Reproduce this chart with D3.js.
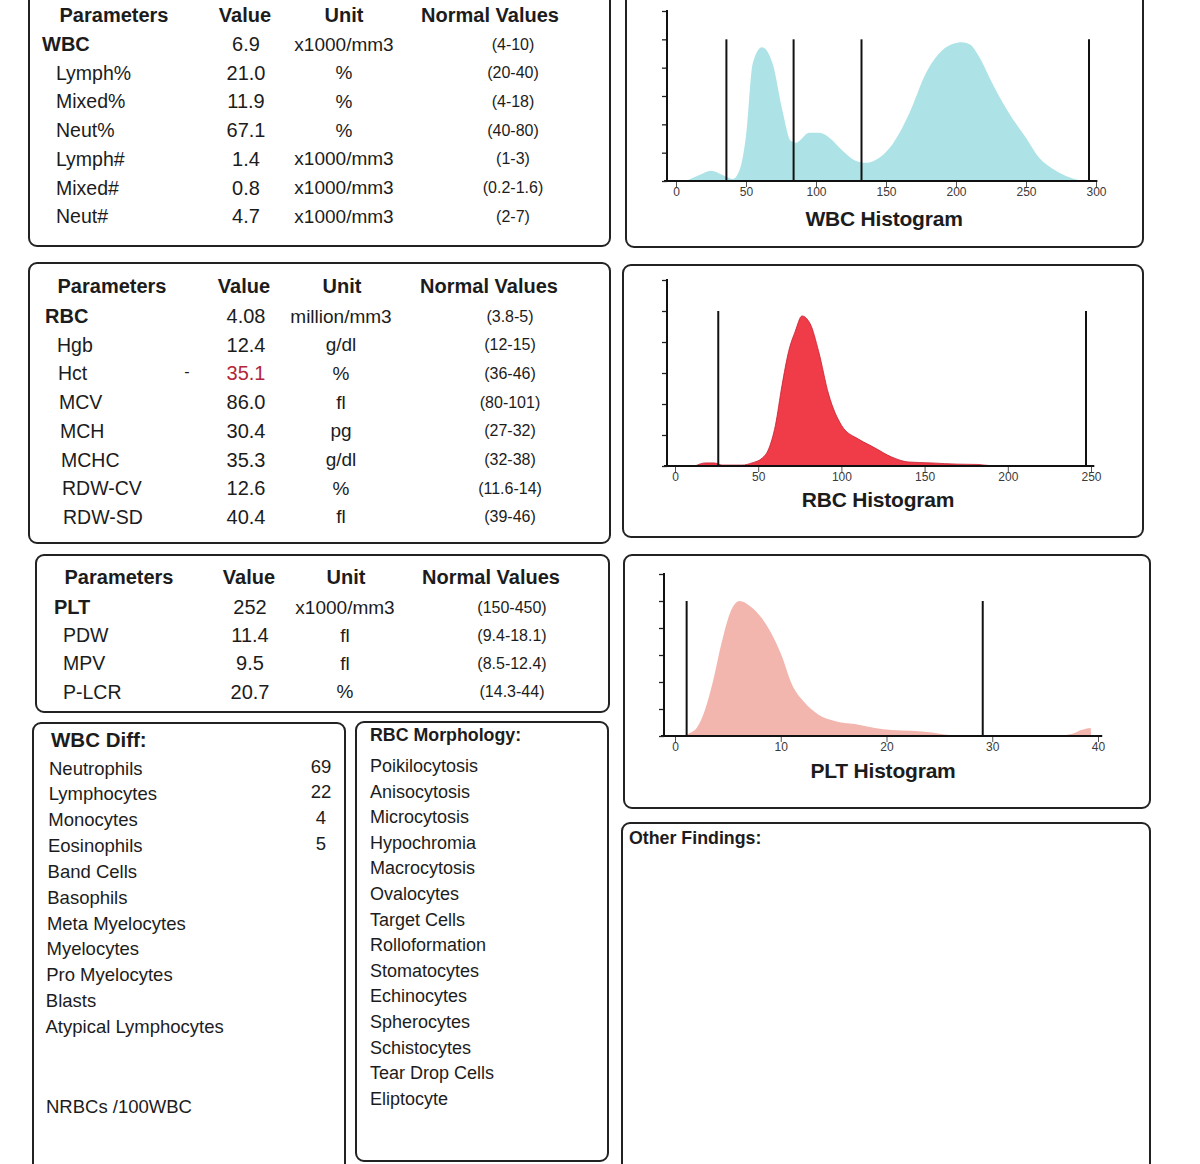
<!DOCTYPE html>
<html><head><meta charset="utf-8">
<script src="https://cdn.jsdelivr.net/npm/d3@7"></script>
<style>
html,body{margin:0;padding:0;background:#fff;}
svg{display:block;font-family:"Liberation Sans",Arial,sans-serif;}
</style></head>
<body><svg id="c" width="1200" height="1164"></svg>
<script>
// ---------- DATA ----------
const tableHeaders = ["Parameters", "Value", "Unit", "Normal Values"];

const wbcParams  = ["WBC", "Lymph%", "Mixed%", "Neut%", "Lymph#", "Mixed#", "Neut#"];
const wbcValues  = ["6.9", "21.0", "11.9", "67.1", "1.4", "0.8", "4.7"];
const wbcUnits   = ["x1000/mm3", "%", "%", "%", "x1000/mm3", "x1000/mm3", "x1000/mm3"];
const wbcNormals = ["(4-10)", "(20-40)", "(4-18)", "(40-80)", "(1-3)", "(0.2-1.6)", "(2-7)"];

const rbcParams  = ["RBC", "Hgb", "Hct", "MCV", "MCH", "MCHC", "RDW-CV", "RDW-SD"];
const rbcValues  = ["4.08", "12.4", "35.1", "86.0", "30.4", "35.3", "12.6", "40.4"];
const rbcUnits   = ["million/mm3", "g/dl", "%", "fl", "pg", "g/dl", "%", "fl"];
const rbcNormals = ["(3.8-5)", "(12-15)", "(36-46)", "(80-101)", "(27-32)", "(32-38)", "(11.6-14)", "(39-46)"];
const rbcFlags   = ["", "", "-", "", "", "", "", ""];

const pltParams  = ["PLT", "PDW", "MPV", "P-LCR"];
const pltValues  = ["252", "11.4", "9.5", "20.7"];
const pltUnits   = ["x1000/mm3", "fl", "fl", "%"];
const pltNormals = ["(150-450)", "(9.4-18.1)", "(8.5-12.4)", "(14.3-44)"];

const diffCells  = ["Neutrophils", "Lymphocytes", "Monocytes", "Eosinophils", "Band Cells", "Basophils",
                    "Meta Myelocytes", "Myelocytes", "Pro Myelocytes", "Blasts", "Atypical Lymphocytes"];
const diffCounts = [69, 22, 4, 5, null, null, null, null, null, null, null];
const nrbcLabel  = "NRBCs /100WBC";

const morphology = ["Poikilocytosis", "Anisocytosis", "Microcytosis", "Hypochromia", "Macrocytosis",
                    "Ovalocytes", "Target Cells", "Rolloformation", "Stomatocytes", "Echinocytes",
                    "Spherocytes", "Schistocytes", "Tear Drop Cells", "Eliptocyte"];

// histogram curves: [size, relative count (0-60)]
const wbcCurve = [[7,0],[16.7,2.1],[25,3.6],[33.3,2.1],[40.5,0.7],[45.2,3.6],[50,16],[54.8,41.5],[61.4,47.2],
  [69,41.5],[76,24.9],[82,14.2],[85.7,13.5],[95.2,17],[102.4,17],[109.5,15.3],[119,10.7],[128.6,7.1],
  [135.7,6.4],[145.2,8.2],[154.8,13.1],[166.6,23.8],[178.5,38],[190.4,46.2],[198,48.4],[204,49],[210,48.2],
  [216.7,43.7],[226,34.4],[238,23.8],[250,15.3],[259.4,8.2],[269,4.3],[278.5,1.8],[290.4,0]];
const wbcThresholds = [36, 84, 132.5, 295];
const wbcTicks = [0, 50, 100, 150, 200, 250, 300];

const rbcCurve = [[12,0],[18.4,1],[23.4,1],[28.4,0.3],[40.3,0.3],[46.3,1],[52.3,2.5],[56.3,5.5],[60.3,13],
  [64.3,26],[68.3,37],[72.3,43.5],[76.3,48.4],[81.3,45.8],[86.3,37],[92.3,23.2],[100.2,13],[110.2,8.7],
  [116,7],[120.2,5.8],[130.2,2.9],[140.2,1.3],[154,1],[170,0.6],[182,0.5],[190,0.1],[220,0]];
const rbcThresholds = [26, 247];
const rbcTicks = [0, 50, 100, 150, 200, 250];

const pltCurve = [[0.94,0],[1.4,1.1],[2.05,3],[2.8,9.3],[3.6,20.4],[4.4,34.4],[5.2,45.5],[6.1,50],[7.1,48.1],
  [8.2,43.7],[9.1,38.1],[10.1,29.6],[11,19.6],[12.3,12.2],[13.5,8.1],[15.1,5.6],[17,4.4],[18.9,3],
  [20.5,2.2],[22.4,1.9],[24.3,1.3],[25.5,0.6],[26.8,0.2],[28.3,0.1],[36.2,0.1],[37.5,0.7],[38.4,2.2],
  [39.3,3],[39.35,0]];
const pltThresholds = [1.1, 29.1];
const pltTicks = [0, 10, 20, 30, 40];

const yTicks = [0, 10, 20, 30, 40, 50, 60];
const thresholdHeight = 50;

// ---------- DRAW ----------
const svg = d3.select("#c");
const INK = "#1c1c1c";

function box(x1, y1, x2, y2) {
  svg.append("rect").attr("x", x1).attr("y", y1).attr("width", x2 - x1).attr("height", y2 - y1)
    .attr("rx", 8).attr("ry", 8).attr("fill", "none").attr("stroke", "#222").attr("stroke-width", 2);
}

// boxes
box(29, -20, 610, 246);   // WBC table
box(626, -20, 1143, 247); // WBC hist
box(29, 263, 610, 543);   // RBC table
box(623, 265, 1143, 537); // RBC hist
box(36, 555, 609, 712);   // PLT table
box(624, 555, 1150, 808); // PLT hist
box(33, 723, 345, 1180);  // WBC diff
box(356, 722, 608, 1161); // RBC morph
box(622, 823, 1150, 1180);// Other findings

function txt(x, y, s, opts = {}) {
  return svg.append("text").attr("x", x).attr("y", y).text(s)
    .attr("dominant-baseline", "central")
    .attr("text-anchor", opts.anchor || "start")
    .attr("font-size", opts.size || 19)
    .attr("font-weight", opts.bold ? "bold" : "normal")
    .attr("fill", opts.fill || INK);
}

function table(cfg) {
  const hx = cfg.headerX;
  tableHeaders.forEach((h, i) => txt(hx[i], cfg.headerY, h, {anchor: "middle", bold: true, size: 20}));
  const rowY = d3.scaleLinear().domain([0, 1]).range([cfg.firstY, cfg.firstY + cfg.step]);
  cfg.params.forEach((p, i) => {
    const y = rowY(i);
    const nx = i === 0 ? cfg.mainX : cfg.subX + (i - 1) * (cfg.drift || 0);
    txt(nx, y, p, {bold: i === 0, size: i === 0 ? 20 : 19.5});
    txt(cfg.valX, y, cfg.values[i], {anchor: "middle", size: 20,
      fill: (cfg.flags && cfg.flags[i]) ? "#b3263a" : INK});
    if (cfg.flags && cfg.flags[i]) txt(cfg.valX - 59, y - 2, cfg.flags[i], {anchor: "middle", size: 16});
    txt(cfg.unitX, y, cfg.units[i], {anchor: "middle", size: 19});
    txt(cfg.normX, y, cfg.normals[i], {anchor: "middle", size: 16});
  });
}

table({headerX: [114, 245, 344, 490], headerY: 15, firstY: 44, step: 28.7, mainX: 42, subX: 56,
  params: wbcParams, values: wbcValues, units: wbcUnits, normals: wbcNormals,
  valX: 246, unitX: 344, normX: 513});
table({headerX: [112, 244, 342, 489], headerY: 286, firstY: 316, step: 28.7, mainX: 45, subX: 57, drift: 1,
  params: rbcParams, values: rbcValues, units: rbcUnits, normals: rbcNormals, flags: rbcFlags,
  valX: 246, unitX: 341, normX: 510});
table({headerX: [119, 249, 346, 491], headerY: 577, firstY: 607, step: 28.2, mainX: 54, subX: 63,
  params: pltParams, values: pltValues, units: pltUnits, normals: pltNormals,
  valX: 250, unitX: 345, normX: 512});

// WBC diff
txt(51, 739, "WBC Diff:", {bold: true, size: 20.5});
diffCells.forEach((c, i) => {
  const y = 768 + i * 25.85;
  txt(49 - i * 0.35, y, c, {size: 18.5});
  if (diffCounts[i] != null) txt(321, y - 2, diffCounts[i], {anchor: "middle", size: 18.5});
});
txt(46, 1106, nrbcLabel, {size: 18.5});

// RBC morphology
txt(370, 735, "RBC Morphology:", {bold: true, size: 17.8});
morphology.forEach((m, i) => txt(370, 766 + i * 25.6, m, {size: 18}));

// other findings
txt(629, 838, "Other Findings:", {bold: true, size: 17.8});

// histograms
function hist(cfg) {
  const x = d3.scaleLinear().domain(cfg.xDomain).range(cfg.xRange);
  const y = d3.scaleLinear().domain([0, 60]).range([cfg.base, cfg.top]);
  const g = svg.append("g");
  const area = d3.area().x(d => x(d[0])).y0(cfg.base).y1(d => y(d[1])).curve(d3.curveMonotoneX);
  g.append("path").datum(cfg.curve).attr("d", area).attr("fill", cfg.fill)
    .attr("stroke", cfg.stroke || "none").attr("stroke-width", 0.8);
  // thresholds
  g.selectAll("line.th").data(cfg.thresholds).enter().append("line")
    .attr("x1", d => x(d)).attr("x2", d => x(d)).attr("y1", y(thresholdHeight)).attr("y2", cfg.base)
    .attr("stroke", "#111").attr("stroke-width", 2);
  // x axis
  const xa = g.append("g").attr("transform", `translate(0,${cfg.base})`)
    .call(d3.axisBottom(x).tickValues(cfg.ticks).tickSize(6).tickPadding(0));
  xa.select(".domain").remove();
  xa.selectAll(".tick line").attr("stroke", "#555");
  xa.selectAll(".tick text").attr("font-size", 12).attr("fill", "#3a3a3a")
    .attr("font-family", "'Liberation Sans Narrow','Liberation Sans',sans-serif");
  g.append("line").attr("x1", cfg.axisX - 3).attr("x2", x(cfg.xEnd)).attr("y1", cfg.base).attr("y2", cfg.base)
    .attr("stroke", "#111").attr("stroke-width", 2);
  // y axis
  const ya = g.append("g").attr("transform", `translate(${cfg.axisX},0)`)
    .call(d3.axisLeft(y).tickValues(yTicks).tickSize(5).tickFormat(""));
  ya.select(".domain").remove();
  ya.selectAll(".tick line").attr("stroke", "#222").attr("stroke-width", 1.3);
  g.append("line").attr("x1", cfg.axisX).attr("x2", cfg.axisX).attr("y1", cfg.top - 1).attr("y2", cfg.base)
    .attr("stroke", "#111").attr("stroke-width", 2);
  txt(cfg.titleX, cfg.titleY, cfg.title, {anchor: "middle", bold: true, size: 21}).attr("letter-spacing", "-0.2");
}

hist({title: "WBC Histogram", titleX: 884, titleY: 218, curve: wbcCurve, thresholds: wbcThresholds,
  ticks: wbcTicks, xDomain: [0, 300], xRange: [676, 1096], xEnd: 301, base: 181, top: 11, axisX: 667,
  fill: "#ade3e6"});
hist({title: "RBC Histogram", titleX: 878, titleY: 499, curve: rbcCurve, thresholds: rbcThresholds,
  ticks: rbcTicks, xDomain: [0, 250], xRange: [675, 1091], xEnd: 252, base: 466, top: 280, axisX: 667,
  fill: "#ef3c48", stroke: "#c51f2e"});
hist({title: "PLT Histogram", titleX: 883, titleY: 770, curve: pltCurve, thresholds: pltThresholds,
  ticks: pltTicks, xDomain: [0, 40], xRange: [675, 1098], xEnd: 40.4, base: 736, top: 574, axisX: 664,
  fill: "#f2b6ae"});
</script></body></html>
